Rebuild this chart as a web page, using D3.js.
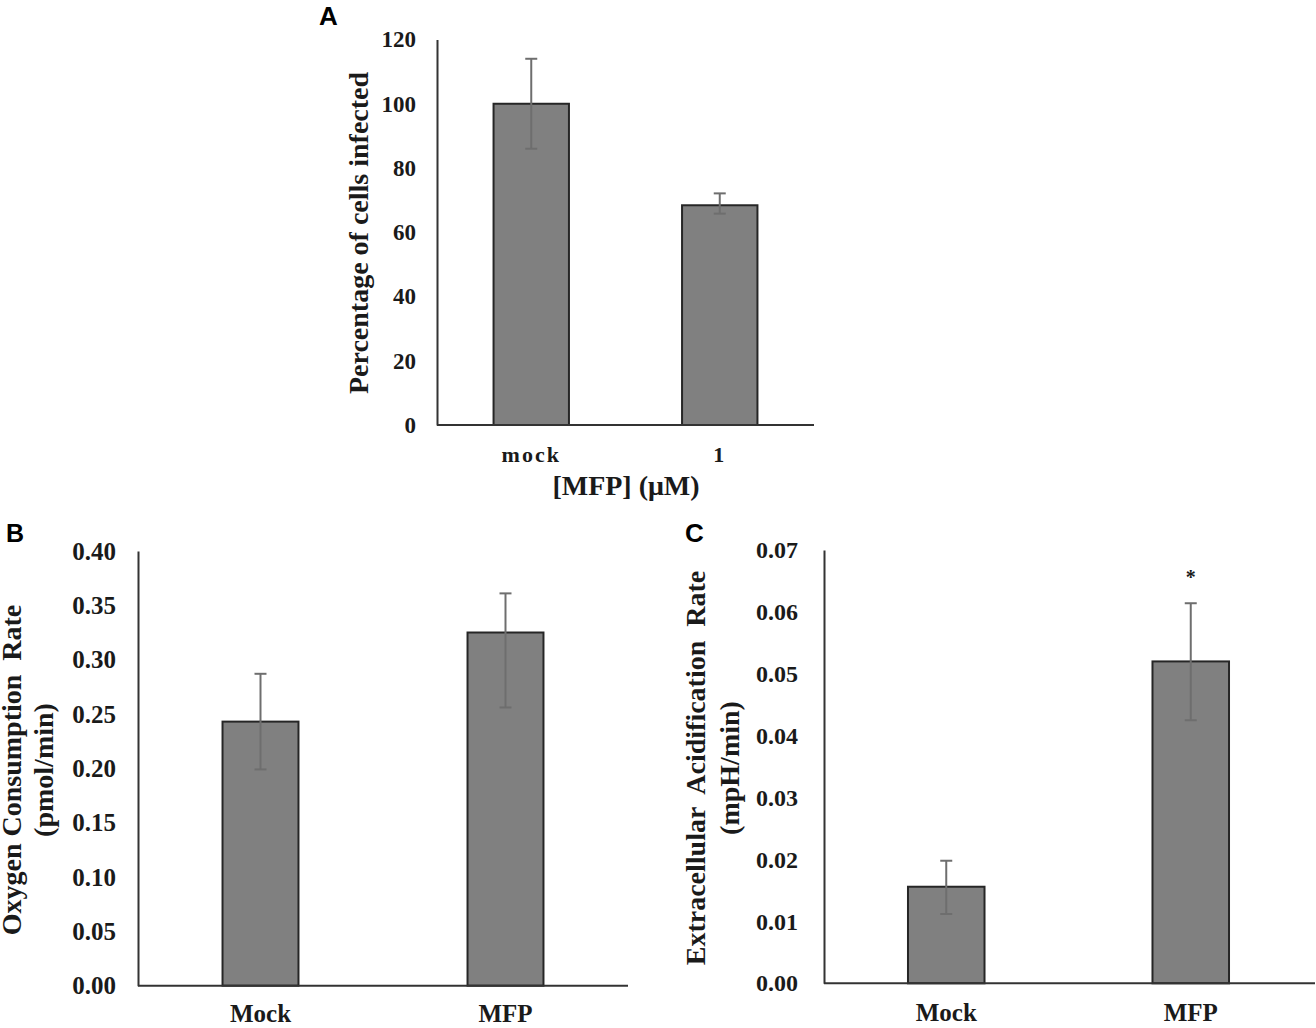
<!DOCTYPE html>
<html>
<head>
<meta charset="utf-8">
<script src="https://cdn.jsdelivr.net/npm/d3@7"></script>
<style>
  html, body { margin: 0; padding: 0; background: #fff; }
  svg { display: block; }
  text { font-family: "Liberation Serif", "Times New Roman", serif; font-weight: bold; fill: #1a1a1a; white-space: pre; }
  .panel-letter { font-family: "Liberation Sans", Arial, sans-serif; fill: #000; }
</style>
</head>
<body>
<svg id="chart" width="1316" height="1028"></svg>
<script>
// ---------- Data ----------
// Panel A
const categoriesA = ["mock", "1"];
const valuesA = [100, 68.4];
const errUpperA = [14, 3.7];
const errLowerA = [14, 2.6];
const ticksA = [0, 20, 40, 60, 80, 100, 120];

// Panel B
const categoriesB = ["Mock", "MFP"];
const valuesB = [0.243, 0.325];
const errUpperB = [0.044, 0.036];
const errLowerB = [0.044, 0.069];
const ticksB = [0, 0.05, 0.10, 0.15, 0.20, 0.25, 0.30, 0.35, 0.40];

// Panel C
const categoriesC = ["Mock", "MFP"];
const valuesC = [0.0156, 0.0520];
const errUpperC = [0.0042, 0.0094];
const errLowerC = [0.0044, 0.0095];
const ticksC = [0, 0.01, 0.02, 0.03, 0.04, 0.05, 0.06, 0.07];
const significanceC = ["", "*"];

// ---------- Drawing ----------
const svg = d3.select("#chart");
svg.append("rect").attr("width", 1316).attr("height", 1028).attr("fill", "#fff");

function drawPanel(p) {
  const g = svg.append("g");
  const x = d3.scaleBand().domain(p.categories).range(p.xRange)
    .paddingInner(p.padInner).paddingOuter(p.padInner / 2);
  const y = d3.scaleLinear().domain(p.yDomain).range(p.yRange);

  // bars
  g.selectAll("rect.bar").data(p.values).enter().append("rect")
    .attr("class", "bar")
    .attr("x", (d, i) => x(p.categories[i]))
    .attr("width", x.bandwidth())
    .attr("y", d => y(d))
    .attr("height", d => y(0) - y(d))
    .attr("fill", "#808080")
    .attr("stroke", "#262626")
    .attr("stroke-width", 2);

  // error bars
  const eb = g.selectAll("g.err").data(p.values).enter().append("g").attr("class", "err");
  const cx = i => x(p.categories[i]) + x.bandwidth() / 2;
  eb.append("line")
    .attr("x1", (d, i) => cx(i)).attr("x2", (d, i) => cx(i))
    .attr("y1", (d, i) => y(d + p.errUpper[i])).attr("y2", (d, i) => y(d - p.errLower[i]));
  eb.append("line")
    .attr("x1", (d, i) => cx(i) - 6).attr("x2", (d, i) => cx(i) + 6)
    .attr("y1", (d, i) => y(d + p.errUpper[i])).attr("y2", (d, i) => y(d + p.errUpper[i]));
  eb.append("line")
    .attr("x1", (d, i) => cx(i) - 6).attr("x2", (d, i) => cx(i) + 6)
    .attr("y1", (d, i) => y(d - p.errLower[i])).attr("y2", (d, i) => y(d - p.errLower[i]));
  eb.selectAll("line").attr("stroke", "#6e6e6e").attr("stroke-width", 2);

  // y axis
  const yAxis = d3.axisLeft(y).tickValues(p.ticks).tickFormat(p.fmt)
    .tickSize(0).tickPadding(p.tickPad);
  const ya = g.append("g").attr("transform", `translate(${p.xRange[0]},0)`).call(yAxis);
  ya.select(".domain").attr("stroke", "#333").attr("stroke-width", 2);
  ya.selectAll(".tick text")
    .attr("font-family", "Liberation Serif, Times New Roman, serif")
    .attr("font-weight", "bold")
    .attr("font-size", p.tickFont).attr("fill", "#1a1a1a");

  // x axis
  const xAxis = d3.axisBottom(x).tickSize(0).tickSizeOuter(0).tickPadding(p.catPad);
  const xa = g.append("g").attr("transform", `translate(0,${y(0)})`).call(xAxis);
  xa.select(".domain").remove();
  xa.selectAll(".tick text")
    .attr("font-family", "Liberation Serif, Times New Roman, serif")
    .attr("font-weight", "bold")
    .attr("font-size", p.catFont).attr("fill", "#1a1a1a")
    .attr("letter-spacing", p.catSpacing || 0);
  g.append("line")
    .attr("x1", p.xRange[0]).attr("x2", p.axisEnd)
    .attr("y1", y(0)).attr("y2", y(0))
    .attr("stroke", "#333").attr("stroke-width", 2);

  // y titles
  p.yTitles.forEach(t => {
    g.append("text")
      .attr("transform", `translate(${t.x},${p.titleCenterY}) rotate(-90)`)
      .attr("text-anchor", "middle")
      .attr("font-size", p.titleFont)
      .text(t.text);
  });

  // significance marks
  if (p.marks) {
    g.selectAll("text.mark").data(p.values).enter().append("text")
      .attr("class", "mark")
      .attr("x", (d, i) => cx(i))
      .attr("y", (d, i) => y(d + p.errUpper[i]) - 19)
      .attr("text-anchor", "middle")
      .attr("font-size", 20)
      .attr("fill", "#444")
      .text((d, i) => p.marks[i]);
  }

  // panel letter
  svg.append("text").attr("class", "panel-letter")
    .attr("x", p.letter.x).attr("y", p.letter.y)
    .attr("font-size", p.letter.size)
    .text(p.letter.text);

  return { x, y, g };
}

const A = drawPanel({
  categories: categoriesA, values: valuesA, errUpper: errUpperA, errLower: errLowerA,
  ticks: ticksA, fmt: d3.format("d"), yDomain: [0, 120], yRange: [425, 39.5],
  xRange: [437, 814], axisEnd: 814, padInner: 0.6, tickPad: 21, tickFont: 23,
  catPad: 21, catFont: 22, catSpacing: 2,
  titleFont: 28, titleCenterY: 233, yTitles: [{ x: 368, text: "Percentage of cells infected" }],
  letter: { text: "A", x: 319, y: 25, size: 26 }
});
A.g.append("text")
  .attr("x", 626).attr("y", 495)
  .attr("text-anchor", "middle")
  .attr("font-size", 28)
  .text("[MFP] (μM)");

drawPanel({
  categories: categoriesB, values: valuesB, errUpper: errUpperB, errLower: errLowerB,
  ticks: ticksB, fmt: d3.format(".2f"), yDomain: [0, 0.40], yRange: [985.7, 551],
  xRange: [138, 628], axisEnd: 628, padInner: 0.69, tickPad: 22, tickFont: 25,
  catPad: 19, catFont: 25,
  titleFont: 28, titleCenterY: 770,
  yTitles: [{ x: 21, text: "Oxygen Consumption  Rate" }, { x: 53, text: "(pmol/min)" }],
  letter: { text: "B", x: 6, y: 542, size: 25 }
});

drawPanel({
  categories: categoriesC, values: valuesC, errUpper: errUpperC, errLower: errLowerC,
  ticks: ticksC, fmt: d3.format(".2f"), yDomain: [0, 0.07], yRange: [983.3, 550],
  xRange: [824, 1313], axisEnd: 1315, padInner: 0.687, tickPad: 26, tickFont: 24,
  catPad: 20, catFont: 25,
  titleFont: 28, titleCenterY: 768,
  yTitles: [{ x: 705, text: "Extracellular  Acidification  Rate" }, { x: 739, text: "(mpH/min)" }],
  marks: significanceC,
  letter: { text: "C", x: 685, y: 542, size: 26 }
});
</script>
</body>
</html>
